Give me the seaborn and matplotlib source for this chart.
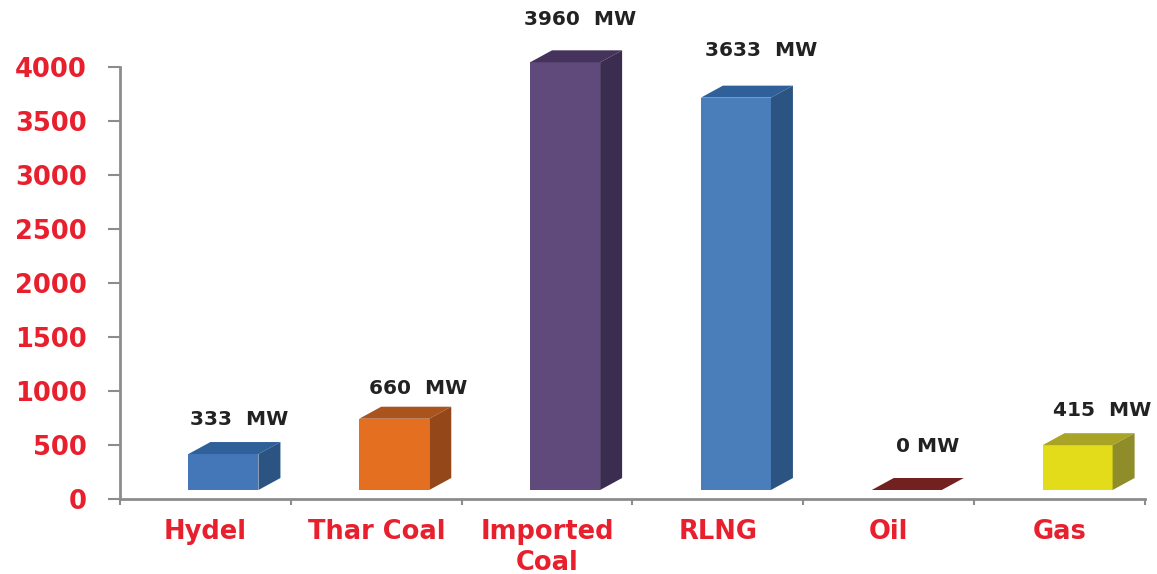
import pandas as pd
import matplotlib.pyplot as plt
import seaborn as sns
from matplotlib.patches import Polygon
from matplotlib.ticker import FixedLocator

# ===== DATA =====
categories = ["Hydel", "Thar Coal", "Imported\nCoal", "RLNG", "Oil", "Gas"]
capacity_mw = [333, 660, 3960, 3633, 0, 415]
y_ticks = [0, 500, 1000, 1500, 2000, 2500, 3000, 3500, 4000]

front_colors = ["#4377b8", "#e56f20", "#604a7b", "#4a7ebb", "#722020", "#e3dc1a"]
top_colors = ["#2f6099", "#a9541c", "#45335c", "#2f6099", "#722020", "#aaa426"]
side_colors = ["#2c5482", "#94481a", "#3b2d50", "#2c5482", "#722020", "#8f8c2a"]
label_dx_px = [5, 13, 4, 14, 10, 14]
label_dy_px = [23, 18, 31, 35, 31, 23]

RED = "#e8202e"
GREY = "#8c8c8c"

df = pd.DataFrame({"source": categories, "mw": capacity_mw})

sns.set_theme(style="white")
fig = plt.figure(figsize=(11.57, 5.74), dpi=100)
ax = fig.add_axes([120 / 1157, 1 - 499 / 574, (1145 - 120) / 1157, 432 / 574])

sns.barplot(data=df, x="source", y="mw", hue="source", palette=front_colors,
            width=0.41, saturation=1, legend=False, linewidth=0, ax=ax)

ax.set_xlim(-0.5, 5.5)
ax.set_ylim(0, 4000)

# pixel sizes -> data units
px_x = 1 / (1025 / 6)
px_y = 4000 / 432

# ===== FAKE 3D FACES =====
for i, bar in enumerate(ax.patches):
    # bar floats a little over the floor, and to the right of the category centre
    bar.set_x(bar.get_x() + 18 * px_x)
    bar.set_y(9 * px_y)
    bar.set_clip_on(False)
    x0, x1 = bar.get_x(), bar.get_x() + bar.get_width()
    y0, y1 = bar.get_y(), bar.get_y() + bar.get_height()
    dx, dy = 22 * px_x, 12 * px_y

    ax.add_patch(Polygon([(x0, y1), (x1, y1), (x1 + dx, y1 + dy), (x0 + dx, y1 + dy)],
                         facecolor=top_colors[i], edgecolor="none", clip_on=False))
    if y1 > y0:
        ax.add_patch(Polygon([(x1, y0), (x1, y1), (x1 + dx, y1 + dy), (x1 + dx, y0 + dy)],
                             facecolor=side_colors[i], edgecolor="none", clip_on=False))

    ax.annotate(f"{capacity_mw[i]}  MW" if capacity_mw[i] else "0 MW",
                xy=((x0 + x1 + dx) / 2, y1 + dy),
                xytext=(label_dx_px[i], label_dy_px[i]), textcoords="offset pixels",
                ha="center", va="center", fontsize=14.5, fontweight="bold",
                color="#222222", annotation_clip=False)

# ===== AXES =====
ax.set_xlabel("")
ax.set_ylabel("")
ax.set_yticks(y_ticks)
ax.set_yticklabels([str(v) for v in y_ticks], fontsize=18.5, fontweight="bold", color=RED)
ax.set_xticks(range(len(categories)))
ax.set_xticklabels(categories, fontsize=18.5, fontweight="bold", color=RED, linespacing=1.22)
ax.xaxis.set_minor_locator(FixedLocator([v - 0.5 for v in range(len(categories) + 1)]))
ax.tick_params(axis="x", which="major", length=0, pad=14.5)
ax.tick_params(axis="x", which="minor", length=4, width=1.5, color=GREY, bottom=True)
ax.tick_params(axis="y", which="major", length=9, width=1.5, color=GREY, pad=15, left=True)

sns.despine(ax=ax)
for side in ["left", "bottom"]:
    ax.spines[side].set_color(GREY)
    ax.spines[side].set_linewidth(2)

fig.savefig("out.png", dpi=100)
